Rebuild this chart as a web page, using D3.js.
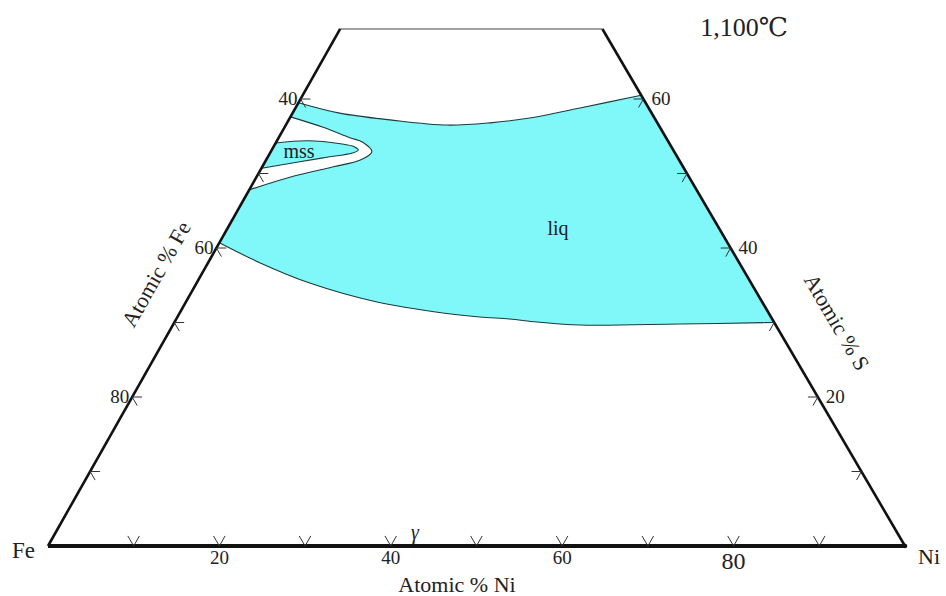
<!DOCTYPE html>
<html>
<head>
<meta charset="utf-8">
<script src="https://cdn.jsdelivr.net/npm/d3@7"></script>
<style>
  html, body { margin: 0; padding: 0; background: #fff; }
  svg text { font-family: "Liberation Serif", "DejaVu Serif", serif; fill: #222; }
</style>
</head>
<body>
<svg id="chart" width="946" height="596"></svg>
<script>
// ---- data (compositions as [Ni %, S %]; Fe = 100 - Ni - S) ----
const sTop = 69.4;                       // truncation of the diagram (S %)
const niTicks = [10, 20, 30, 40, 50, 60, 70, 80, 90];
const niLabels = [20, 40, 60, 80];
const feTicksS = [10, 20, 30, 40, 50, 60];      // ticks on Fe–S edge (by S %)
const feLabels = [80, 60, 40];                 // Fe % labels on Fe–S edge
const sTicks = [10, 20, 30, 40, 50, 60];        // ticks on Ni–S edge
const sLabels = [20, 40, 60];

const liqTop = [[0, 59.5], [5.5, 58.1], [11.8, 57.2], [18.8, 56.5], [23.7, 56.8],
                [28.0, 57.45], [33.2, 58.8], [39.5, 60.5]];
const liqBottom = [[70, 30], [59.1, 29.8], [47.5, 29.66], [42.3, 30.07], [38.9, 30.47],
                   [35.3, 30.74], [30.7, 31.28], [22.3, 32.75], [13.2, 35.3], [6.1, 38.0], [0, 40.7]];
const lensCurve = [[0, 47.8], [3.9, 49.5], [8.3, 50.9], [11.0, 51.8], [11.8, 52.9],
                   [10.1, 54.2], [8.3, 54.8], [4.5, 56.2], [0, 57.6]];
const mssCurve = [[0, 54.1], [3.5, 54.4], [7.6, 54.0], [9.4, 53.6], [10.1, 53.15],
                  [9.6, 52.75], [6.5, 52.1], [0, 50.7]];

// ---- scales ----
const xNi = d3.scaleLinear().domain([0, 100]).range([48, 905]);
const xS = d3.scaleLinear().domain([0, 100]).range([0, 421]);
const yS = d3.scaleLinear().domain([0, 100]).range([546, -199]);
const proj = d => [xNi(d[0]) + xS(d[1]), yS(d[1])];

const svg = d3.select("#chart");
const curve = d3.line().x(d => proj(d)[0]).y(d => proj(d)[1]).curve(d3.curveCatmullRom.alpha(0.5));
const straight = d3.line().x(d => proj(d)[0]).y(d => proj(d)[1]);

// liquid region
const liqPath = curve(liqTop) + "L" + curve(liqBottom).slice(1) + "L" + curve(lensCurve).slice(1) + "Z";
svg.append("path").attr("d", liqPath).attr("fill", "#80f7f9")
  .attr("stroke", "#1d3b3b").attr("stroke-width", 1.1).attr("stroke-linejoin", "round");

// mss region
svg.append("path").attr("d", curve(mssCurve) + "Z").attr("fill", "#80f7f9")
  .attr("stroke", "#1d3b3b").attr("stroke-width", 1.1);

// frame
svg.append("path").attr("d", straight([[0, sTop], [100 - sTop, sTop]]))
  .attr("stroke", "#808080").attr("stroke-width", 1.6).attr("fill", "none");
svg.append("path").attr("d", straight([[0, 0], [0, sTop]]))
  .attr("stroke", "#111").attr("stroke-width", 2.6).attr("fill", "none");
svg.append("path").attr("d", straight([[100, 0], [100 - sTop, sTop]]))
  .attr("stroke", "#111").attr("stroke-width", 2.6).attr("fill", "none");
svg.append("path").attr("d", straight([[0, 0], [100, 0]]))
  .attr("stroke", "#111").attr("stroke-width", 4.2).attr("fill", "none");
const niV = proj([100, 0]);
svg.append("circle").attr("cx", niV[0]).attr("cy", niV[1]).attr("r", 2.3).attr("fill", "#111");

// ticks (small chevrons along the two grid directions)
const tb = 1.35; // base arm length in composition %
const ts = 1.15; // side arm length
const tickG = svg.append("g").attr("fill", "none").attr("stroke", "#333").attr("stroke-width", 1);
niTicks.forEach(n => {
  tickG.append("path").attr("d", straight([[n - tb, tb], [n, 0], [n, tb]]));
});
feTicksS.forEach(s => {
  tickG.append("path").attr("d", straight([[ts, s], [0, s], [ts, s - ts]]));
});
sTicks.forEach(s => {
  const n = 100 - s;
  tickG.append("path").attr("d", straight([[n - ts, s], [n, s], [n, s - ts]]));
});

// tick labels
niLabels.forEach(n => {
  const p = proj([n, 0]);
  const big = n === 80;
  svg.append("text").attr("x", p[0]).attr("y", big ? 569 : 564)
    .attr("text-anchor", "middle").attr("font-size", big ? 24 : 19).text(n);
});
feLabels.forEach(f => {
  const p = proj([0, 100 - f]);
  svg.append("text").attr("x", p[0] - 3).attr("y", p[1] + 6)
    .attr("text-anchor", "end").attr("font-size", 19).text(f);
});
sLabels.forEach(s => {
  const p = proj([100 - s, s]);
  svg.append("text").attr("x", p[0] + 8).attr("y", p[1] + 6)
    .attr("text-anchor", "start").attr("font-size", 19).text(s);
});

// corner & axis titles
svg.append("text").attr("x", 12).attr("y", 558).attr("font-size", 23).text("Fe");
svg.append("text").attr("x", 918).attr("y", 564).attr("font-size", 22).text("Ni");
svg.append("text").attr("x", 457).attr("y", 592).attr("text-anchor", "middle").attr("font-size", 22).text("Atomic % Ni");
svg.append("text").attr("transform", "translate(156,274) rotate(-60.5)")
  .attr("text-anchor", "middle").attr("dy", "0.35em").attr("font-size", 22).text("Atomic % Fe");
svg.append("text").attr("transform", "translate(837,322) rotate(59.6)")
  .attr("text-anchor", "middle").attr("dy", "0.35em").attr("font-size", 22).text("Atomic % S");
svg.append("text").attr("x", 744).attr("y", 36).attr("text-anchor", "middle").attr("font-size", 26).text("1,100℃");

// region labels
svg.append("text").attr("x", 415).attr("y", 539).attr("text-anchor", "middle")
  .attr("font-size", 20).attr("font-style", "italic").text("γ");
svg.append("text").attr("x", 558).attr("y", 235).attr("text-anchor", "middle").attr("font-size", 20).text("liq");
svg.append("text").attr("x", 299).attr("y", 158).attr("text-anchor", "middle").attr("font-size", 20).text("mss");
</script>
</body>
</html>
